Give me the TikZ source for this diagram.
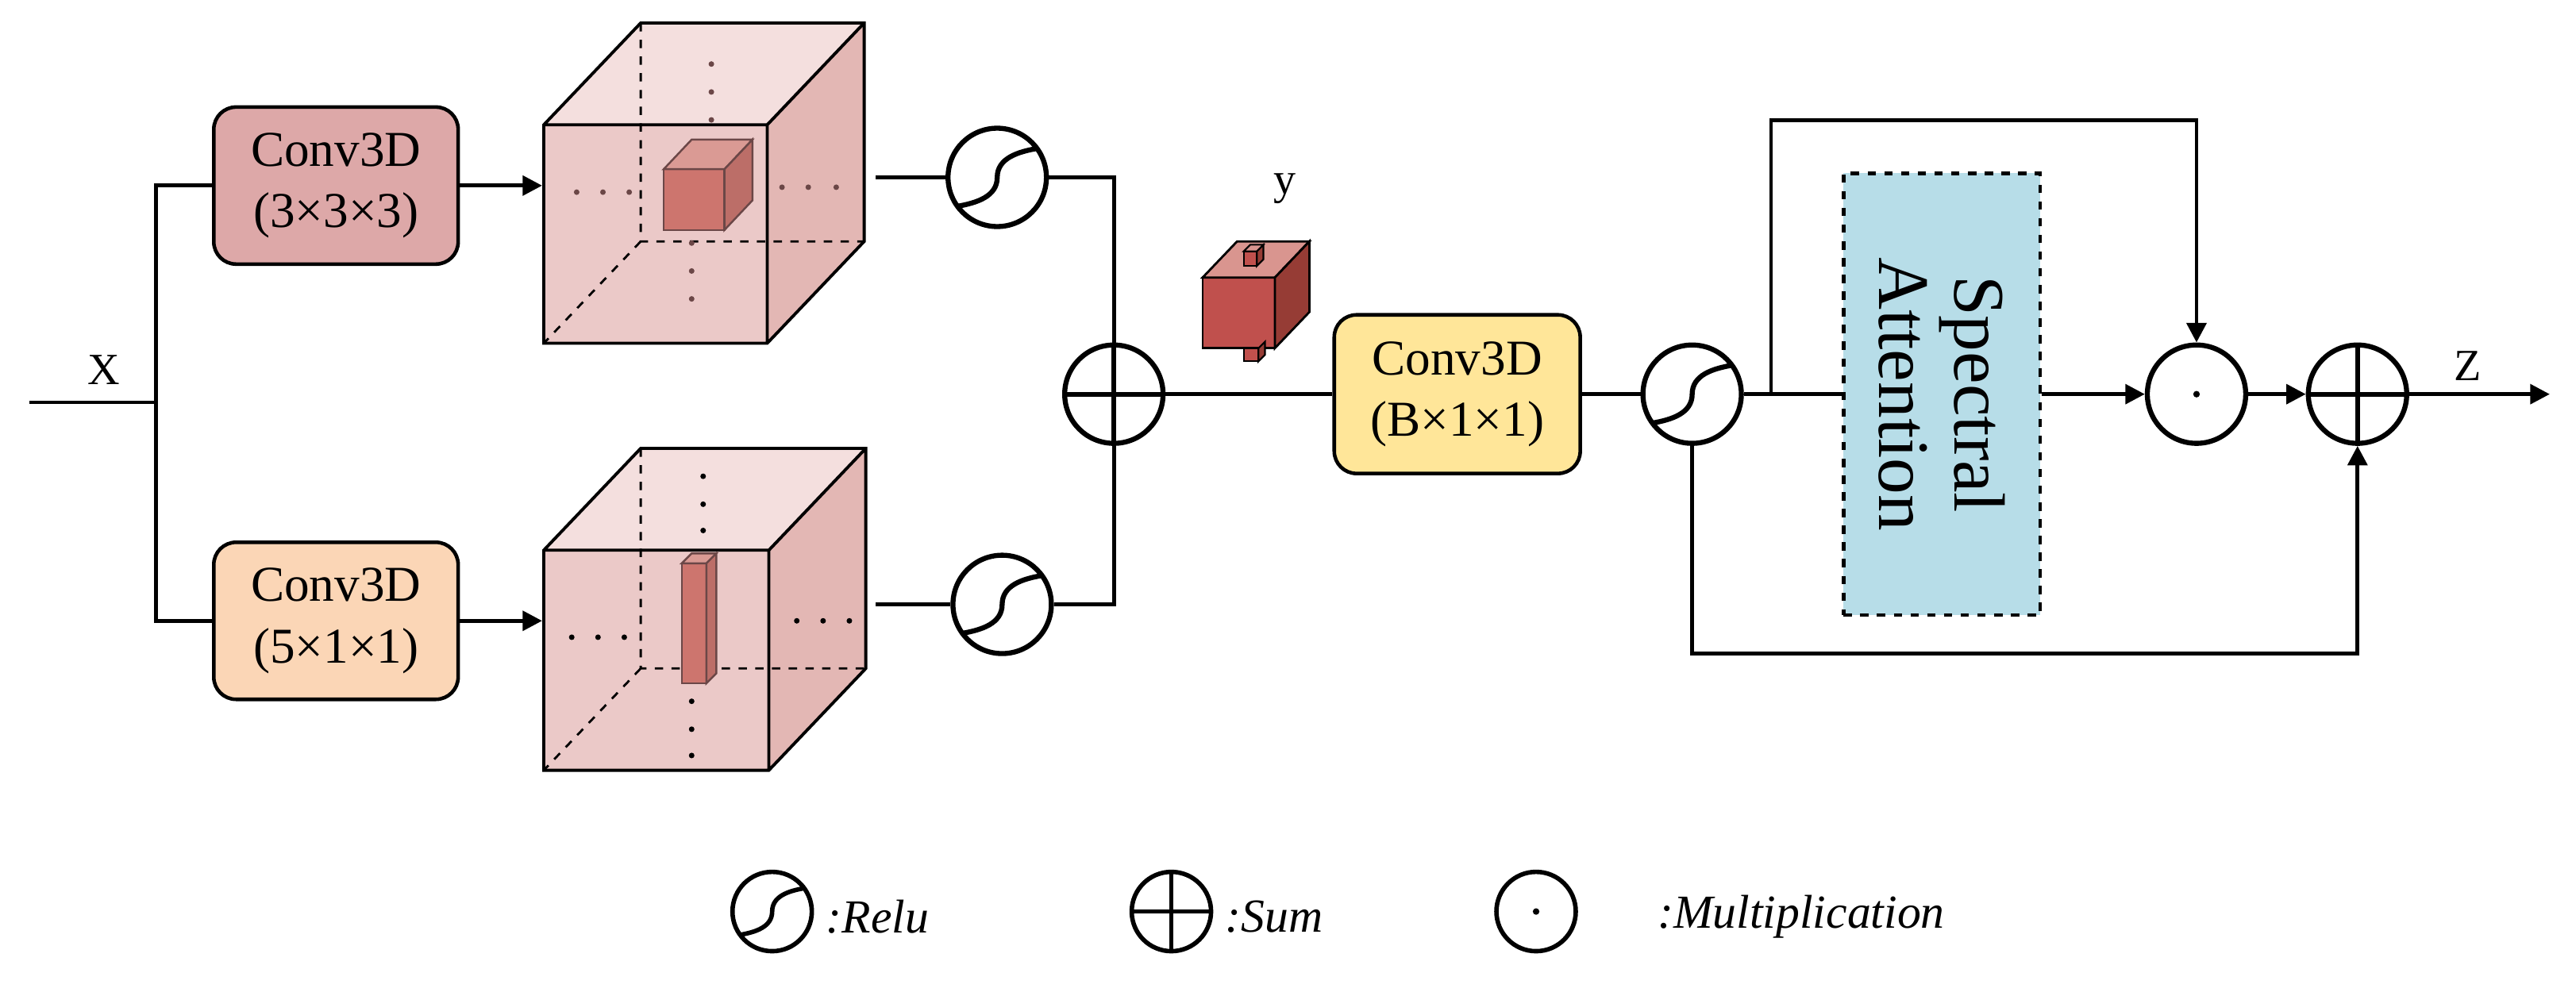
\documentclass[tikz,border=0pt]{standalone}
\usepackage{fontspec}
\setmainfont{Liberation Serif}
\usetikzlibrary{arrows.meta}
\definecolor{boxA}{HTML}{DDA8A8}
\definecolor{boxB}{HTML}{FBD6B6}
\definecolor{boxC}{HTML}{FFE699}
\definecolor{boxD}{HTML}{B7DDE8}
\definecolor{cubeF}{HTML}{EBC9C8}
\definecolor{cubeT}{HTML}{F4DFDE}
\definecolor{cubeS}{HTML}{E3B7B4}
\definecolor{redF}{HTML}{C0504D}
\definecolor{redT}{HTML}{D9958F}
\definecolor{redS}{HTML}{963C35}
\definecolor{midF}{HTML}{CD756E}
\definecolor{midT}{HTML}{DA9A94}
\definecolor{midS}{HTML}{BC6E68}
\definecolor{dotc}{HTML}{6B4747}
\tikzset{
  conv/.style={draw, line width=1.3pt, rounded corners=8pt, align=center,
    minimum width=3.08cm, minimum height=1.98cm, font=\fontsize{18}{22}\selectfont},
  op/.style={draw, circle, line width=1.8pt, minimum size=1.24cm, inner sep=0pt},
  lop/.style={draw, circle, line width=1.6pt, minimum size=1.0cm, inner sep=0pt},
  wire/.style={line width=1.4pt},
  arr/.style={line width=1.4pt, -{Triangle[length=7pt,width=7pt]}},
  lbl/.style={font=\fontsize{16}{18}\selectfont},
  leg/.style={font=\itshape\fontsize{17}{20}\selectfont, anchor=west}
}
\begin{document}
\begin{tikzpicture}[x=0.0207cm,y=0.0207cm]
\useasboundingbox (0,0) rectangle (1568,-604);
% cube 1
\fill[cubeF] (331,-76) rectangle (467,-209);
\fill[cubeT] (331,-76) -- (390,-14) -- (526,-14) -- (467,-76) -- cycle;
\fill[cubeS] (467,-76) -- (526,-14) -- (526,-147) -- (467,-209) -- cycle;
\draw[dashed, line width=0.8pt] (390,-14) -- (390,-147) -- (526,-147) (390,-147) -- (331,-209);
\draw[line width=1.1pt] (331,-76) -- (390,-14) -- (526,-14) -- (526,-147) -- (467,-209) -- (331,-209) -- cycle
  (331,-76) -- (467,-76) -- (526,-14) (467,-76) -- (467,-209);
\draw[fill=midF, draw=dotc, line width=0.7pt] (404,-103) rectangle (441,-140);
\draw[fill=midT, draw=dotc, line width=0.7pt] (404,-103) -- (421,-85) -- (458,-85) -- (441,-103) -- cycle;
\draw[fill=midS, draw=dotc, line width=0.7pt] (441,-103) -- (458,-85) -- (458,-122) -- (441,-140) -- cycle;
\foreach \p in {(433,-39),(433,-56),(433,-73),(351,-117),(367,-117),(383,-117),
                (476,-114),(492,-114),(509,-114),(421,-148),(421,-165),(421,-182)}
  \fill[dotc] \p circle (1.7);
% cube 2
\fill[cubeF] (331,-335) rectangle (468,-469);
\fill[cubeT] (331,-335) -- (390,-273) -- (527,-273) -- (468,-335) -- cycle;
\fill[cubeS] (468,-335) -- (527,-273) -- (527,-407) -- (468,-469) -- cycle;
\draw[dashed, line width=0.8pt] (390,-273) -- (390,-407) -- (527,-407) (390,-407) -- (331,-469);
\draw[line width=1.1pt] (331,-335) -- (390,-273) -- (527,-273) -- (527,-407) -- (468,-469) -- (331,-469) -- cycle
  (331,-335) -- (468,-335) -- (527,-273) (468,-335) -- (468,-469);
\draw[fill=midF, draw=dotc, line width=0.7pt] (415,-343) rectangle (430,-416);
\draw[fill=midT, draw=dotc, line width=0.7pt] (415,-343) -- (421,-337) -- (436,-337) -- (430,-343) -- cycle;
\draw[fill=midS, draw=dotc, line width=0.7pt] (430,-343) -- (436,-337) -- (436,-410) -- (430,-416) -- cycle;
\foreach \p in {(428,-290),(428,-307),(428,-323),(348,-388),(364,-388),(380,-388),
                (485,-378),(501,-378),(517,-378),(421,-427),(421,-444),(421,-460)}
  \fill[black] \p circle (1.7);
% small cube y
\draw[fill=redF, line width=0.8pt] (732,-169) rectangle (776,-212);
\draw[fill=redT, line width=0.8pt] (732,-169) -- (753,-147) -- (797,-147) -- (776,-169) -- cycle;
\draw[fill=redS, line width=0.8pt] (776,-169) -- (797,-147) -- (797,-190) -- (776,-212) -- cycle;
\draw[fill=redF, line width=0.6pt] (757,-153) rectangle (765,-162);
\draw[fill=redS, line width=0.6pt] (765,-153) -- (769,-149) -- (769,-158) -- (765,-162) -- cycle;
\draw[fill=redT, line width=0.6pt] (757,-153) -- (761,-149) -- (769,-149) -- (765,-153) -- cycle;
\draw[fill=redF, line width=0.6pt] (757,-212) rectangle (766,-220);
\draw[fill=redS, line width=0.6pt] (766,-212) -- (770,-208) -- (770,-216) -- (766,-220) -- cycle;
\node[lbl] (ylab) at (782,-115) {y};
% blocks
\node[conv, fill=boxA] (c1) at (204.5,-113) {Conv3D\\(3×3×3)};
\node[conv, fill=boxB] (c2) at (204.5,-378) {Conv3D\\(5×1×1)};
\node[conv, fill=boxC, minimum width=3.1cm, minimum height=2.0cm] (c3) at (887,-240) {Conv3D\\(B×1×1)};
\node[draw, dashed, line width=1.3pt, fill=boxD, minimum width=2.48cm, minimum height=5.57cm] (sa) at (1182,-240) {};
\node[rotate=-90, align=center, font=\fontsize{26}{27}\selectfont] at (sa.center) {Spectral\\Attention};
\node[op] (r1) at (607,-108) {};
\node[op] (r2) at (610,-368) {};
\node[op] (s1) at (678,-240) {};
\node[op] (r3) at (1030,-240) {};
\node[op] (m1) at (1337,-240) {};
\node[op] (s2) at (1435,-240) {};
\coordinate (xin) at (18,-245);
\coordinate (xsplit) at (95,-245);
\coordinate (out) at (1552,-240);
\coordinate (tap) at (1078,-240);
\node[lbl] (xlab) at (63,-225) {X};
\node[lbl] (zlab) at (1502,-223) {Z};
% glyphs
\foreach \n in {r1,r2,r3}
  \draw[line width=1.8pt] ([shift={(216:0.62cm)}]\n.center) to[out=10,in=-90] (\n.center) to[out=90,in=190] ([shift={(36:0.62cm)}]\n.center);
\foreach \n in {s1,s2}
  \draw[line width=1.8pt] (\n.north) -- (\n.south) (\n.west) -- (\n.east);
\fill (m1.center) circle (2);
% wires
\draw[wire] (xin) -- (xsplit);
\draw[wire] (c1.west) -| (xsplit) |- (c2.west);
\draw[arr] (c1.east) -- (330,-113);
\draw[arr] (c2.east) -- (330,-378);
\draw[wire] (533,-108) -- (r1.west);
\draw[wire] (533,-368) -- (r2.west);
\draw[wire] (r1.east) -| (s1.north);
\draw[wire] (r2.east) -| (s1.south);
\draw[wire] (s1.east) -- (c3.west);
\draw[wire] (c3.east) -- (r3.west);
\draw[wire] (r3.east) -- (sa.west);
\draw[arr] (sa.east) -- (m1.west);
\draw[arr] (tap) |- (1337,-73) -- (m1.north);
\draw[arr] (m1.east) -- (s2.west);
\draw[arr] (s2.east) -- (out);
\draw[arr] (r3.south) |- (1435,-398) -- (s2.south);
% legend
\node[lop] (lr) at (470,-555) {};
\draw[line width=1.6pt] ([shift={(216:0.5cm)}]lr.center) to[out=10,in=-90] (lr.center) to[out=90,in=190] ([shift={(36:0.5cm)}]lr.center);
\node[leg] (lrt) at (497,-558) {:Relu};
\node[lop] (ls) at (713,-555) {};
\draw[line width=1.6pt] (ls.north) -- (ls.south) (ls.west) -- (ls.east);
\node[leg] (lst) at (740,-558) {:Sum};
\node[lop] (lm) at (935,-555) {};
\fill (lm.center) circle (2);
\node[leg] (lmt) at (1003,-558) {:Multiplication};
\end{tikzpicture}
\end{document}
